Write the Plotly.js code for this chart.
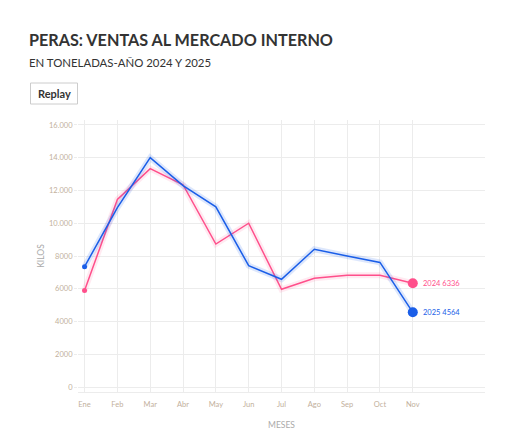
<!DOCTYPE html>
<html>
<head>
<meta charset="utf-8">
<script src="https://cdn.plot.ly/plotly-3.0.1.min.js"></script>
<style>
html,body{margin:0;padding:0;background:#fff;}
#chart{width:508px;height:440px;}
</style>
</head>
<body>
<div id="chart"></div>
<script>
const months = ["Ene","Feb","Mar","Abr","May","Jun","Jul","Ago","Sep","Oct","Nov"];
const values2024 = [5900, 11450, 13330, 12350, 8730, 10000, 5970, 6640, 6820, 6820, 6336];
const values2025 = [7350, 10950, 14000, 12300, 11000, 7410, 6580, 8410, 8000, 7610, 4564];
const yTickVals = [0, 2000, 4000, 6000, 8000, 10000, 12000, 14000, 16000];
const yTickText = ["0", "2000", "4000", "6000", "8000", "10.000", "12.000", "14.000", "16.000"];

const pink = "#ff4f8b";
const blue = "#1a5ee8";
const idx = months.map((m, i) => i);
const last = idx.length - 1;

function series(vals, color, glow) {
  return [
    {x: idx, y: vals, type: "scatter", mode: "lines", hoverinfo: "skip",
     line: {color: glow, width: 6}, showlegend: false},
    {x: idx, y: vals, type: "scatter", mode: "lines", hoverinfo: "skip",
     line: {color: color, width: 1.5}, showlegend: false},
    {x: [idx[0]], y: [vals[0]], type: "scatter", mode: "markers",
     marker: {color: color, size: 5}, showlegend: false},
    {x: [idx[last]], y: [vals[last]], type: "scatter", mode: "markers",
     marker: {color: color, size: 10}, showlegend: false}
  ];
}

const data = [].concat(
  series(values2024, pink, "rgba(255,79,139,0.12)"),
  series(values2025, blue, "rgba(26,94,232,0.15)")
);

const font = "Lato, 'Source Sans Pro', 'Noto Sans', sans-serif";
const tickColor = "#c2b09c";

const layout = {
  width: 508, height: 440,
  margin: {l: 78, r: 23, t: 120, b: 48},
  paper_bgcolor: "#fff", plot_bgcolor: "#fff",
  font: {family: font},
  title: {text: "<b>PERAS: VENTAS AL MERCADO INTERNO</b>", x: 29/508, xanchor: "left",
          y: 1 - 40/440, yanchor: "middle", font: {size: 16.2, color: "#333333", family: font}},
  xaxis: {
    range: [-0.2, 12.2], tickvals: idx, ticktext: months,
    showgrid: true, gridcolor: "#ececec", gridwidth: 1,
    zeroline: false, showline: true, linecolor: "#ececec", linewidth: 1,
    ticks: "", tickfont: {size: 7.5, color: tickColor}, ticklabelstandoff: 5,
    title: {text: "MESES", font: {size: 8.5, color: "#aaaaaa"}, standoff: 14},
    fixedrange: true
  },
  yaxis: {
    range: [-300, 16300], tickvals: yTickVals, ticktext: yTickText,
    showgrid: true, gridcolor: "#ececec", gridwidth: 1,
    zeroline: false, showline: false,
    ticks: "outside", ticklen: 3, tickcolor: "#ececec",
    tickfont: {size: 7.5, color: tickColor},
    title: {text: "KILOS", font: {size: 8.5, color: "#aaaaaa"}, standoff: 2},
    fixedrange: true
  },
  annotations: [
    {text: "EN TONELADAS-AÑO 2024 Y 2025", xref: "paper", yref: "paper",
     x: -51/407, y: 1 + 58/272, xanchor: "left", yanchor: "middle", showarrow: false,
     font: {size: 11.4, color: "#333333", family: font}},
    {text: "<b>Replay</b>", xref: "paper", yref: "paper",
     x: (54 - 78)/407, y: (392 - 93.5)/272, xanchor: "center", yanchor: "middle", showarrow: false,
     font: {size: 11, color: "#333333", family: font}},
    {text: "2024 " + values2024[last], x: idx[last], y: values2024[last], xanchor: "left", yanchor: "middle",
     xshift: 8, showarrow: false, font: {size: 7.5, color: pink}},
    {text: "2025 " + values2025[last], x: idx[last], y: values2025[last], xanchor: "left", yanchor: "middle",
     xshift: 8, showarrow: false, font: {size: 7.5, color: blue}}
  ],
  shapes: [
    {type: "rect", xref: "paper", yref: "paper",
     x0: (30.5 - 78)/407, x1: (77.5 - 78)/407, y0: (392 - 104)/272, y1: (392 - 83)/272,
     line: {color: "#cccccc", width: 1}, fillcolor: "#ffffff", layer: "above"}
  ]
};

Plotly.newPlot("chart", data, layout, {displayModeBar: false, staticPlot: true});
</script>
</body>
</html>
